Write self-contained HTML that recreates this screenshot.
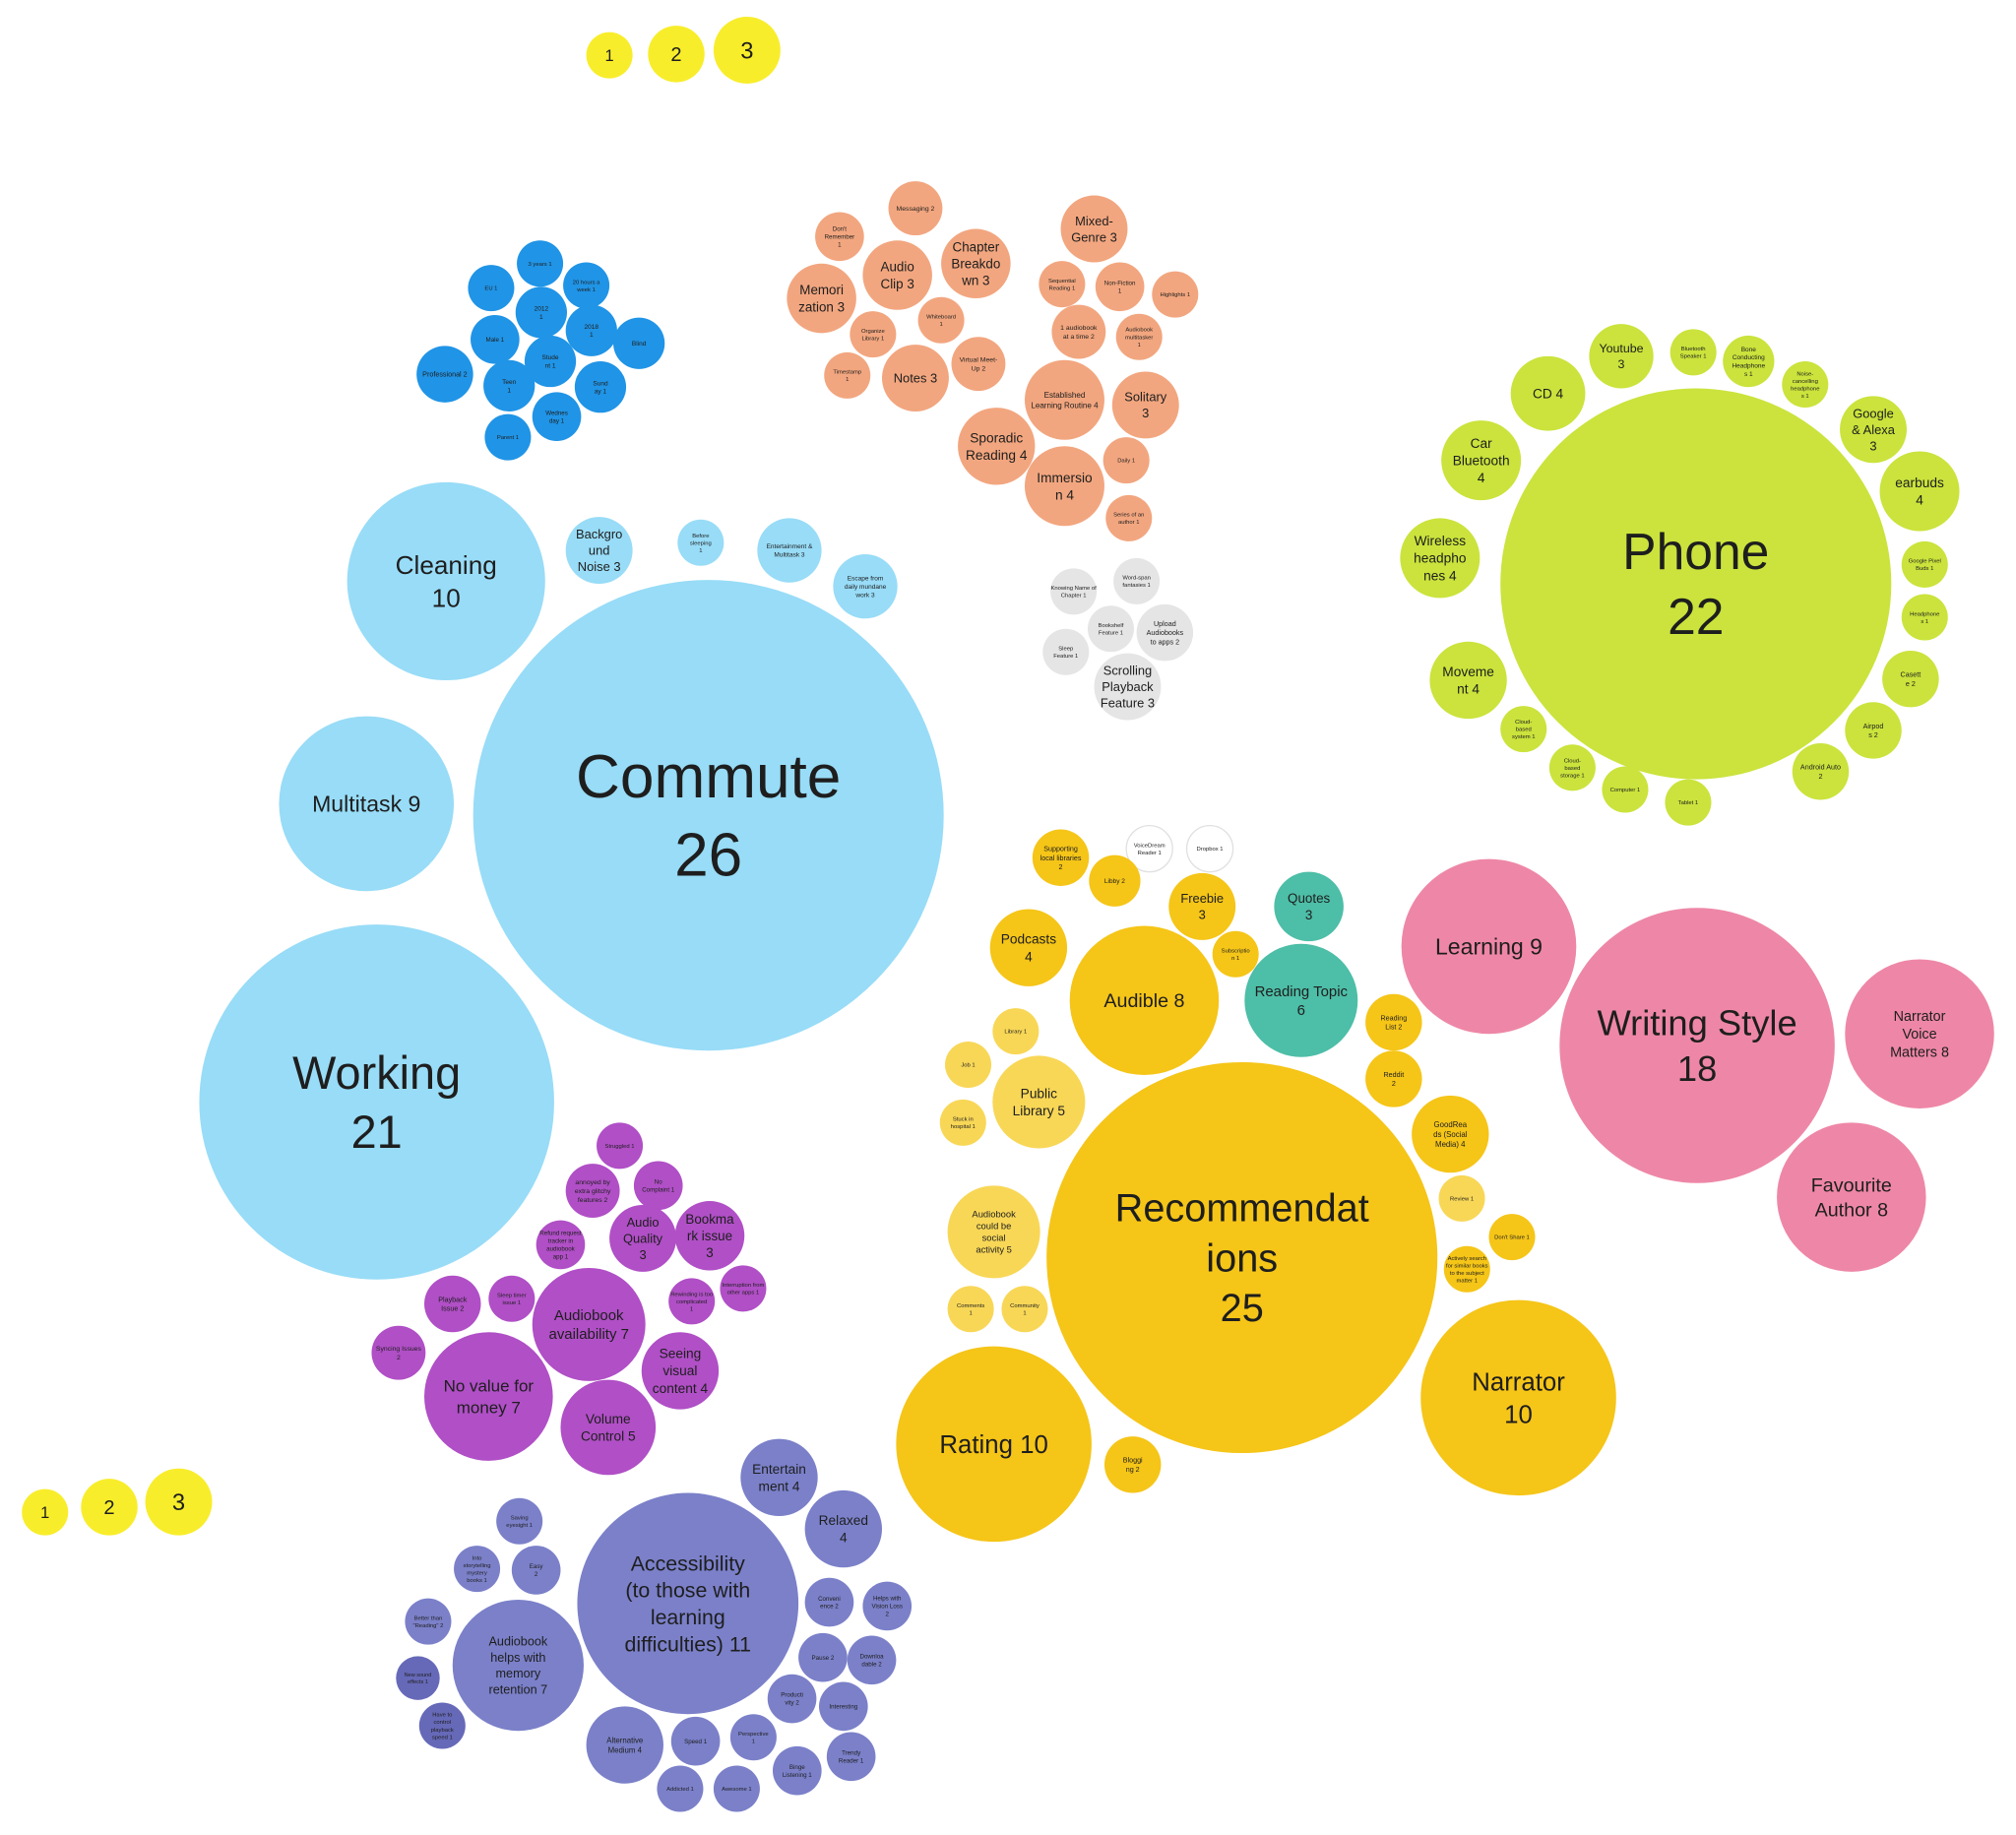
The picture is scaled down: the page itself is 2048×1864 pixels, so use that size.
<!DOCTYPE html>
<html><head><meta charset="utf-8"><style>
html,body{margin:0;padding:0;background:#fff;}
svg{display:block;}
text{font-family:"Liberation Sans",sans-serif;fill:#1e1e1e;text-anchor:middle;}
</style></head><body>
<svg id="chart" width="2048" height="1864" viewBox="0 0 1568 1427" preserveAspectRatio="none" xmlns="http://www.w3.org/2000/svg"></svg>
<script>
const labels = [
"1","2","3","1","2","3",
"Commute|26","Cleaning|10","Multitask 9","Working|21","Backgro|und|Noise 3","Before|sleeping|1","Entertainment &|Multitask 3","Escape from|daily mundane|work 3",
"3 years 1","20 hours a|week 1","EU 1","2012|1","2018|1","Blind","Male 1","Stude|nt 1","Professional 2","Teen|1","Sund|ay 1","Wednes|day 1","Parent 1",
"Messaging 2","Don't|Remember|1","Mixed-|Genre 3","Audio|Clip 3","Chapter|Breakdo|wn 3","Memori|zation 3","Sequential|Reading 1","Non-Fiction|1","Highlights 1","Whiteboard|1","Organize|Library 1","1 audiobook|at a time 2","Audiobook|multitasker|1","Virtual Meet-|Up 2","Timestamp|1","Notes 3","Established|Learning Routine 4","Solitary|3","Sporadic|Reading 4","Immersio|n 4","Daily 1","Series of an|author 1",
"Knowing Name of|Chapter 1","Word-span|fantasies 1","Bookshelf|Feature 1","Upload|Audiobooks|to apps 2","Sleep|Feature 1","Scrolling|Playback|Feature 3",
"Phone|22","Youtube|3","Bluetooth|Speaker 1","Bone|Conducting|Headphone|s 1","Noise-|cancelling|headphone|s 1","CD 4","Google|& Alexa|3","Car|Bluetooth|4","earbuds|4","Wireless|headpho|nes 4","Google Pixel|Buds 1","Headphone|s 1","Moveme|nt 4","Casett|e 2","Cloud-|based|system 1","Airpod|s 2","Cloud-|based|storage 1","Android Auto|2","Computer 1","Tablet 1",
"Recommendat|ions|25","Supporting|local libraries|2","VoiceDream|Reader 1","Dropbox 1","Libby 2","Freebie|3","Quotes|3","Podcasts|4","Subscriptio|n 1","Audible 8","Reading Topic|6","Reading|List 2","Library 1","Job 1","Public|Library 5","Reddit|2","Stuck in|hospital 1","GoodRea|ds (Social|Media) 4","Review 1","Audiobook|could be|social|activity 5","Don't Share 1","Actively search|for similar books|to the subject|matter 1","Comments|1","Community|1","Narrator|10","Rating 10","Bloggi|ng 2",
"Learning 9","Writing Style|18","Narrator|Voice|Matters 8","Favourite|Author 8",
"Struggled 1","annoyed by|extra glitchy|features 2","No|Complaint 1","Bookma|rk issue|3","Audio|Quality|3","Refund request|tracker in|audiobook|app 1","Playback|Issue 2","Sleep timer|issue 1","Audiobook|availability 7","Rewinding is too|complicated|1","Interruption from|other apps 1","Syncing Issues|2","Seeing|visual|content 4","No value for|money 7","Volume|Control 5",
"Entertain|ment 4","Relaxed|4","Saving|eyesight 1","Into|storytelling|mystery|books 1","Easy|2","Better than|\"Reading\" 2","Accessibility|(to those with|learning|difficulties)  11","Conveni|ence 2","Helps with|Vision Loss|2","Audiobook|helps with|memory|retention 7","Pause 2","Downloa|dable 2","New sound|effects 1","Producti|vity 2","Interesting","Have to|control|playback|speed 1","Alternative|Medium 4","Speed 1","Perspective|1","Trendy|Reader 1","Binge|Listening 1","Addicted 1","Awesome 1"
];
const groups = [
"num","num","num","num","num","num",
"lb","lb","lb","lb","lb","lb","lb","lb",
"bl","bl","bl","bl","bl","bl","bl","bl","bl","bl","bl","bl","bl",
"or","or","or","or","or","or","or","or","or","or","or","or","or","or","or","or","or","or","or","or","or","or",
"gr","gr","gr","gr","gr","gr",
"li","li","li","li","li","li","li","li","li","li","li","li","li","li","li","li","li","li","li","li",
"ye","ye","wh","wh","ye","ye","te","ye","ye","ye","te","ye","ly","ly","ly","ye","ly","ye","ly","ly","ye","ye","ly","ly","ye","ye","ye",
"pk","pk","pk","pk",
"pu","pu","pu","pu","pu","pu","pu","pu","pu","pu","pu","pu","pu","pu","pu",
"in","in","in","in","in","in","in","in","in","in","in","in","dk","in","in","dk","in","in","in","in","in","in","in"
];
const layoutX = [474,526,581,35,85,139,
551,347,285,293,466,545,614,673,
420,456,382,421,460,497,385,428,346,396,467,433,395,
712,653,851,698,759,639,826,871,914,732,679,839,886,761,659,712,828,891,775,828,876,878,
835,884,864,906,829,877,
1319,1261,1317,1360,1404,1204,1457,1152,1493,1120,1497,1497,1142,1486,1185,1457,1223,1416,1264,1313,
966,825,894,941,867,935,1018,800,961,890,1012,1084,790,753,808,1084,749,1128,1137,773,1176,1141,755,797,1181,773,881,
1158,1320,1493,1440,
482,461,512,552,500,436,352,398,458,538,578,310,529,380,473,
606,656,404,371,417,333,535,645,690,403,640,678,325,616,656,344,486,541,586,662,620,529,573];
const layoutY = [43,42,39,1176,1172,1168,
634,452,625,857,428,422,428,456,
205,222,224,243,257,267,264,281,291,300,301,324,340,
162,184,178,214,205,232,221,223,229,249,260,258,262,283,292,294,311,315,347,378,358,403,
460,452,489,492,507,534,
454,277,274,281,299,306,334,358,382,434,439,480,529,528,567,568,597,600,614,624,
978,667,660,660,685,705,705,737,742,778,778,795,802,828,857,839,873,882,932,958,962,987,1018,1018,1087,1123,1139,
736,813,804,931,
891,926,922,961,963,968,1014,1010,1030,1012,1002,1052,1066,1086,1110,
1149,1189,1183,1220,1221,1261,1247,1246,1249,1295,1289,1291,1305,1321,1327,1342,1357,1354,1351,1366,1377,1391,1391];
const radius = [18,22,26,18,22,26,
183,77,68,138,26,18,25,25,
18,18,18,20,20,20,19,20,22,20,20,19,18,
21,19,26,27,27,27,18,19,18,18,18,21,18,21,18,26,31,26,30,31,18,18,
18,18,18,22,18,26,
152,25,18,20,18,29,26,31,31,31,18,18,30,22,18,22,18,22,18,18,
152,22,18,18,20,26,27,30,18,58,44,22,18,18,36,22,18,30,18,36,18,18,18,18,76,76,22,
68,107,58,58,
18,21,19,27,26,19,22,18,44,18,18,21,30,50,37,
30,30,18,18,19,18,86,19,19,51,19,19,17,19,19,18,30,19,18,19,19,18,18];
const palette = {num:"#f8ed2b",lb:"#98dcf7",bl:"#2094e6",or:"#f2a67f",gr:"#e5e5e5",li:"#cbe33c",ye:"#f5c518",ly:"#f8d757",te:"#4dbea7",wh:"#ffffff",pk:"#ee87a7",pu:"#b04fc6",in:"#7b80c9",dk:"#6669b8"};
const NS="http://www.w3.org/2000/svg";
const svg=document.getElementById('chart');
labels.forEach((lab,i)=>{
  const g=document.createElementNS(NS,'g');
  
  
  const c=document.createElementNS(NS,'circle');
  c.setAttribute('cx',layoutX[i]);c.setAttribute('cy',layoutY[i]);c.setAttribute('r',radius[i]);
  c.setAttribute('fill',palette[groups[i]]);
  if(groups[i]==='wh'){c.setAttribute('stroke','#e0e0e0');c.setAttribute('stroke-width','1');}
  g.appendChild(c);
  const lines=lab.split('|');
  const maxLen=Math.max(...lines.map(s=>s.length));
  const r=radius[i];
  let fs;
  if(groups[i]==='num') fs=r*0.7;
  else if(r>=120) fs=r*(lines.length>2?0.2:0.26);
  else if(r>=40) fs=r*(lines.length>2?0.19:0.26);
  else if(r>=25) fs=(maxLen>9)?r*0.2:Math.min(r*0.38,10.5);
  else fs=Math.max(r*0.25,4.2);
  const lh=fs*1.28;
  const t=document.createElementNS(NS,'text');
  t.setAttribute('font-size',fs.toFixed(2));
  const y0=layoutY[i]-(lines.length-1)*lh/2+fs*0.35;
  lines.forEach((ln,k)=>{
    const ts=document.createElementNS(NS,'tspan');
    ts.setAttribute('x',layoutX[i]);ts.setAttribute('y',(y0+k*lh).toFixed(2));
    ts.textContent=ln;t.appendChild(ts);
  });
  g.appendChild(t);
  svg.appendChild(g);
});
</script>
</body></html>
